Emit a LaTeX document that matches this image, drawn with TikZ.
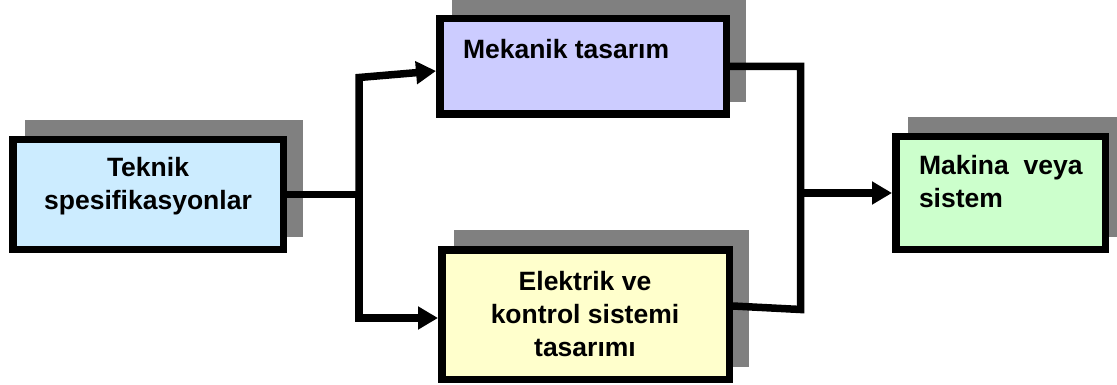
\documentclass[tikz,border=0pt]{standalone}
\usepackage{fontspec}
\setmainfont{Liberation Sans}
\usetikzlibrary{arrows.meta,backgrounds}
\definecolor{shadowgray}{HTML}{808080}
\definecolor{cblue}{HTML}{CCECFF}
\definecolor{cviolet}{HTML}{CCCCFF}
\definecolor{cyellow}{HTML}{FFFFCC}
\definecolor{cgreen}{HTML}{CCFFCC}
\newcommand\centerlines[1]{\vtop{\halign{\hfil##\hfil\cr#1\crcr}}}
\newcommand\leftlines[1]{\vtop{\halign{##\hfil\cr#1\crcr}}}
\begin{document}
\begin{tikzpicture}[x=1pt,y=-1pt,
  box/.style={draw=black, line width=7.5pt, inner sep=0pt, outer sep=3.75pt},
  txt/.style={inner sep=0pt, outer sep=0pt, font=\fontsize{26.5}{33}\selectfont\bfseries},
  conn/.style={line width=7.5pt, line join=miter},
  arr/.style={conn, -{Triangle[length=20pt,width=22pt]}},
  shadow/.style={fill=shadowgray, draw=none}]
\useasboundingbox (0,0) rectangle (1117,385);

% boxes
\node[box, fill=cblue,   minimum width=270.5pt, minimum height=109.5pt] (tek)  at (148,194.5) {};
\node[box, fill=cviolet, minimum width=286.5pt, minimum height=95.5pt]  (mek)  at (583,66.5)  {};
\node[box, fill=cyellow, minimum width=287.5pt, minimum height=129.5pt] (elek) at (585.5,314.5) {};
\node[box, fill=cgreen,  minimum width=209.5pt, minimum height=112.5pt] (mak)  at (1000.5,193) {};

% shadows
\begin{scope}[on background layer]
  \foreach \b in {tek,mek,elek,mak}
    \path[shadow] ([xshift=16pt,yshift=16pt]\b.south west) rectangle ([xshift=16pt,yshift=16pt]\b.north east);
\end{scope}

% texts
\node[txt, anchor=base] (tekt) at (148,176.8) {\centerlines{Teknik\cr spesifikasyonlar}};
\node[txt, anchor=base west] (mekt) at (463,58.3) {Mekanik tasarım};
\node[txt, anchor=base] (elekt) at (585,290.7) {\centerlines{Elektrik ve\cr kontrol sistemi\cr tasarımı}};
\node[txt, anchor=base west] (makt) at (919,175) {\leftlines{Makina\ \ veya\cr sistem}};

% connectors
\coordinate (j1)  at (359,194.5);
\coordinate (j1t) at (359,77.5);
\coordinate (j1b) at (359,318);
\coordinate (j2t) at (800.5,66.5);
\coordinate (j2)  at (800.5,193);
\coordinate (j2b) at (800.5,309.5);

\draw[conn] (tek.east) -- (j1);
\draw[arr] (j1) -- (j1t) -- ([yshift=-4.5pt]mek.west);
\draw[arr] (j1) -- (j1b) -- ([yshift=-3.5pt]elek.west);
\draw[conn] (mek.east) -- (j2t) -- (j2b) -- ([yshift=8.5pt]elek.east);
\draw[arr] (j2) -- (mak.west);
\end{tikzpicture}
\end{document}
